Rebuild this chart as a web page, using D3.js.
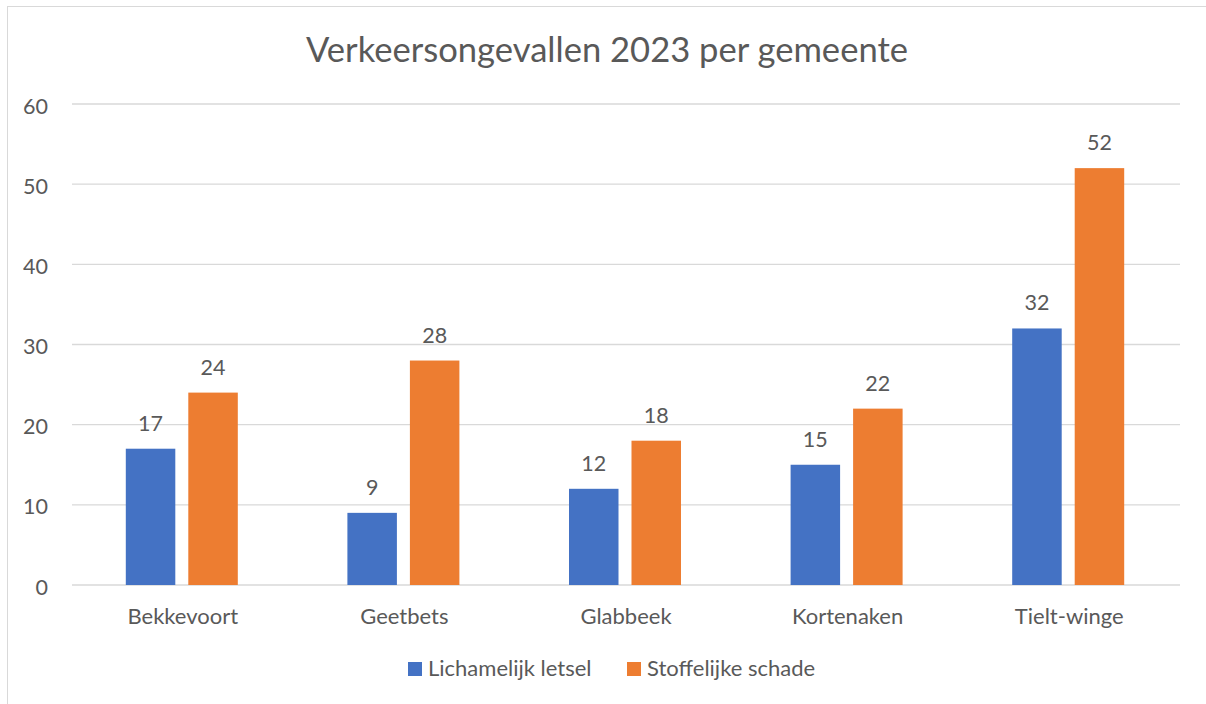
<!DOCTYPE html>
<html>
<head>
<meta charset="utf-8">
<script src="https://cdn.jsdelivr.net/npm/d3@7"></script>
<style>
  body { margin: 0; background: #fff; }
  text { font-family: Lato, "Open Sans", sans-serif; fill: #595959; }
</style>
</head>
<body>
<svg width="1206" height="704"></svg>
<script>
const gemeenten = ["Bekkevoort", "Geetbets", "Glabbeek", "Kortenaken", "Tielt-winge"];
const letsel = [17, 9, 12, 15, 32];
const schade = [24, 28, 18, 22, 52];
const reeksen = ["Lichamelijk letsel", "Stoffelijke schade"];
const yTicks = [0, 10, 20, 30, 40, 50, 60];
const kleuren = ["#4472c4", "#ed7d31"];

let svg = d3.select("svg");

// frame of the chart area
svg.append("rect")
   .attr("x", 7.5).attr("y", 6.5)
   .attr("width", 1205).attr("height", 705)
   .attr("fill", "none")
   .attr("stroke", "#d9d9d9");

let plotLeft = 72, plotRight = 1180, plotTop = 104, plotBottom = 585;

let xScale = d3.scaleBand()
    .domain(gemeenten)
    .range([plotLeft, plotRight]);

// two bars per group, ~49px wide with ~13px between
let xInner = d3.scaleBand()
    .domain(reeksen)
    .range([0, 112])
    .paddingInner(0.208);

let yScale = d3.scaleLinear()
    .domain([0, 60])
    .range([plotBottom, plotTop]);

// gridlines
svg.append("g")
   .selectAll("line")
   .data(yTicks)
   .enter().append("line")
   .attr("x1", plotLeft).attr("x2", plotRight)
   .attr("y1", d => yScale(d)).attr("y2", d => yScale(d))
   .attr("stroke", "#d9d9d9")
   .attr("stroke-width", 1.3);

// y axis labels
let yAxis = d3.axisLeft(yScale).tickValues(yTicks).tickSize(0).tickPadding(0);
let yg = svg.append("g")
   .attr("transform", "translate(48,0)")
   .call(yAxis);
yg.select(".domain").remove();
yg.selectAll("text")
  .attr("dy", "0.42em")
  .style("font-size", "21.5px")
  .attr("fill", "#595959");

// x axis labels
let xAxis = d3.axisBottom(xScale).tickSize(0).tickPadding(0);
let xg = svg.append("g")
   .attr("transform", "translate(0,608)")
   .call(xAxis);
xg.select(".domain").remove();
xg.selectAll("text")
  .style("font-size", "22px")
  .attr("fill", "#595959");

let rows = gemeenten.map((g, i) => ({gemeente: g, waarden: [letsel[i], schade[i]]}));

let groups = svg.selectAll(".groep")
   .data(rows)
   .enter().append("g")
   .attr("class", "groep")
   .attr("transform", d => "translate(" + (xScale(d.gemeente) + xScale.bandwidth() / 2 - 57) + ",0)");

groups.selectAll("rect")
   .data(d => d.waarden.map((v, j) => ({reeks: reeksen[j], v: v, j: j})))
   .enter().append("rect")
   .attr("x", d => xInner(d.reeks))
   .attr("y", d => yScale(d.v))
   .attr("width", xInner.bandwidth())
   .attr("height", d => yScale(0) - yScale(d.v))
   .attr("fill", d => kleuren[d.j]);

groups.selectAll(".lbl")
   .data(d => d.waarden.map((v, j) => ({reeks: reeksen[j], v: v, j: j})))
   .enter().append("text")
   .attr("class", "lbl")
   .attr("x", d => xInner(d.reeks) + xInner.bandwidth() / 2)
   .attr("y", d => yScale(d.v) - 18)
   .attr("text-anchor", "middle")
   .style("font-size", "21.5px")
   .text(d => d.v);

// title
svg.append("text")
   .attr("x", 607).attr("y", 62)
   .attr("text-anchor", "middle")
   .style("font-size", "34.6px")
   .text("Verkeersongevallen 2023 per gemeente");

// legend
let legX = [408, 627];
let leg = svg.selectAll(".leg")
   .data(reeksen)
   .enter().append("g")
   .attr("class", "leg")
   .attr("transform", (d, i) => "translate(" + legX[i] + ",662)");
leg.append("rect")
   .attr("width", 14).attr("height", 14)
   .attr("fill", (d, i) => kleuren[i]);
leg.append("text")
   .attr("x", 20).attr("y", 14)
   .style("font-size", "22px")
   .text(d => d);
</script>
</body>
</html>
